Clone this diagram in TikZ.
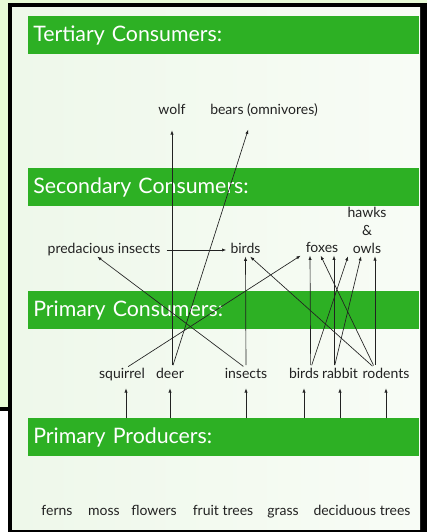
\documentclass[tikz,border=0pt]{standalone}
\usepackage{fontspec}
\setmainfont{Lato}
\usetikzlibrary{arrows.meta}
\definecolor{slidegreen}{HTML}{2DB024}
\definecolor{paperL}{HTML}{EEF8EA}
\definecolor{paperR}{HTML}{F8FCF6}
\definecolor{outergreen}{HTML}{E7FBD6}
\definecolor{ink}{HTML}{222222}
\tikzset{
  bar/.style={fill=slidegreen, text=white, font=\fontsize{16}{19}\selectfont,
    anchor=north west, minimum height=28.5pt, text width=285.75pt,
    inner xsep=3.75pt, align=left},
  lbl/.style={text=ink, font=\fontsize{10.5}{13.5}\selectfont, inner sep=0pt,
    text height=7.5pt, text depth=2pt},
  link/.style={draw=ink, line width=0.5pt, -{Latex[length=3.2pt,width=2.4pt]}},
  up/.style={link, shorten <=2.5pt}
}
\begin{document}
\begin{tikzpicture}[x=0.75pt,y=-0.75pt]
  \useasboundingbox (0,0) rectangle (427,532);
  % slide behind and frame
  \fill[outergreen] (0,0) rectangle (427,532);
  \fill[white] (0,409) rectangle (12,532);
  \fill[black] (0,407) rectangle (12,411);
  \fill[black] (8,3) rectangle (427,532);
  \shade[left color=paperL, right color=paperR] (12,7) rectangle (420,529);

  \node[bar] (tert) at (28,16) {Tertiary Consumers:};
  \node[bar] (sec) at (28,168) {Secondary Consumers:};
  \node[bar] (prim) at (28,291) {Primary Consumers:};
  \node[bar] (prod) at (28,418) {Primary Producers:};

  \node[lbl] (wolf) at (172,111) {wolf};
  \node[lbl] (bears) at (264,111) {bears (omnivores)};

  \node[lbl] (predins) at (104,250) {predacious insects};
  \node[lbl] (birdsB) at (245.5,250) {birds};
  \node[lbl] (foxes) at (322,249) {foxes};
  \node[lbl, text height=, align=center, anchor=south] (hawks) at (367,256.3) {hawks\\\&\\owls};

  \node[lbl] (squirrel) at (122,375) {squirrel};
  \node[lbl] (deer) at (170,375) {deer};
  \node[lbl] (insects) at (246,375) {insects};
  \node[lbl] (birdsA) at (304,375) {birds};
  \node[lbl] (rabbit) at (340,375) {rabbit};
  \node[lbl] (rodents) at (386,375) {rodents};

  \node[lbl] (ferns) at (57,512) {ferns};
  \node[lbl] (moss) at (104,512) {moss};
  \node[lbl] (flowers) at (154,512) {flowers};
  \node[lbl] (fruit) at (223,512) {fruit trees};
  \node[lbl] (grass) at (283,512) {grass};
  \node[lbl] (decid) at (362,512) {deciduous trees};

  \draw[link, shorten >=5pt] ([xshift=3pt]prod.north -| squirrel.south) -- ([xshift=3pt]squirrel.south);
  \draw[link, shorten >=5pt] (prod.north -| deer.south) -- (deer.south);
  \draw[link, shorten >=5pt] (prod.north -| insects.south) -- (insects.south);
  \draw[link, shorten >=5pt] (prod.north -| birdsA.south) -- (birdsA.south);
  \draw[link, shorten >=5pt] (prod.north -| rabbit.south) -- (rabbit.south);
  \draw[link, shorten >=5pt] (prod.north -| rodents.south) -- (rodents.south);

  \draw[up, shorten >=9.5pt] ([xshift=1.5pt]deer.north) -- (wolf.south);
  \draw[up, shorten >=9.5pt] ([xshift=1.5pt]deer.north) -- ([xshift=-9pt]bears.south);
  \draw[up] ([xshift=2.5pt]squirrel.north) -- ([xshift=-16pt]foxes.south);
  \draw[up] (insects.north) -- ([xshift=-5pt]predins.south);
  \draw[up] (insects.north) -- (birdsB.south);
  \draw[link, shorten <=4.5pt, shorten >=3pt] (predins.east) -- (birdsB.west);
  \draw[up] ([xshift=-8.25pt]rodents.north) -- ([xshift=3.5pt]birdsB.south);
  \draw[up] ([xshift=-8.25pt]rodents.north) -- ([xshift=-1pt]foxes.south);
  \draw[up] ([xshift=-8.25pt]rodents.north) -- ([xshift=6pt]hawks.south);
  \draw[up] ([xshift=5pt]birdsA.north) -- ([xshift=-9pt]foxes.south);
  \draw[up] ([xshift=5pt]birdsA.north) -- ([xshift=-14.25pt]hawks.south);
  \draw[up] ([xshift=-4.5pt]rabbit.north) -- ([xshift=9pt]foxes.south);
  \draw[up] ([xshift=-4.5pt]rabbit.north) -- ([xshift=-4.5pt]hawks.south);
\end{tikzpicture}
\end{document}
